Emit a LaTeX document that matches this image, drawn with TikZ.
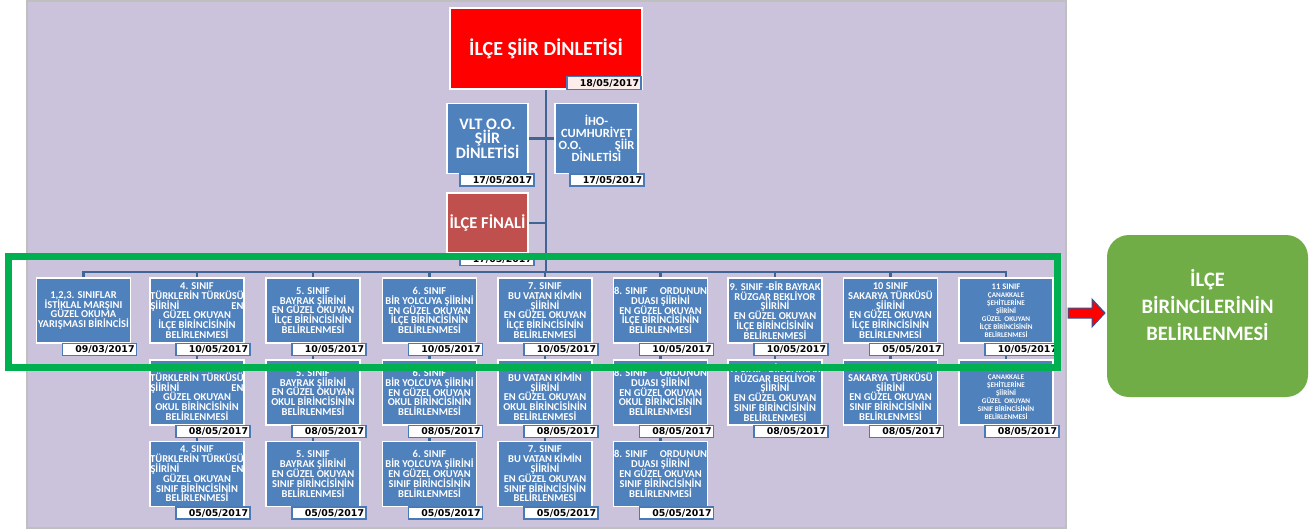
\documentclass[tikz,border=0pt]{standalone}
\usepackage{fontspec}
\setmainfont{Carlito}
\newfontfamily\datefont{DejaVu Sans}
\usetikzlibrary{calc}
\pgfdeclarelayer{bg}
\pgfdeclarelayer{conn}
\pgfsetlayers{bg,conn,main}
\definecolor{lav}{HTML}{CBC3DB}
\definecolor{boxblue}{HTML}{4F81BD}
\definecolor{tagblue}{HTML}{4A7AB5}
\definecolor{lineblue}{HTML}{3F6595}
\definecolor{finred}{HTML}{C0504D}
\definecolor{hgreen}{HTML}{00B050}
\definecolor{rgreen}{HTML}{70AD47}
\definecolor{arrowblue}{HTML}{2F5597}
\definecolor{pinktag}{HTML}{FDEDEC}
\newcommand\spr[2]{\makebox[93pt][s]{#1\hfill #2}}
\newcommand\tightlines{\lineskiplimit=-20pt\lineskip=0pt\relax}
\tikzset{
  sbox/.style={draw=white, line width=1.5pt, fill=boxblue, text=white,
    font=\bfseries\fontsize{10.5}{9.8}\selectfont\tightlines, align=center, inner sep=0pt,
    minimum width=94pt, minimum height=65pt},
  tinybox/.style={sbox, font=\bfseries\fontsize{7.2}{8}\selectfont\tightlines},
  tag/.style={draw=tagblue, line width=1.4pt, fill=white, text=black,
    font=\datefont\bfseries\fontsize{9.4}{9}\selectfont, inner xsep=2pt, inner ysep=0pt,
    text width=70pt, align=right, minimum height=12pt, anchor=north east},
  conn/.style={draw=lineblue, line width=2.2pt},
}
\newcommand\datetag[3]{\node[tag] (#1) at ($(#2.south east)+(6,-1)$) {#3};}
\begin{document}
\begin{tikzpicture}[x=1pt,y=-1pt]
\useasboundingbox (0,0) rectangle (1314,531);
\begin{pgfonlayer}{bg}
\fill[white] (0,0) rectangle (1314,531);
\filldraw[fill=lav, draw=black!25, line width=1.2pt] (27,1) rectangle (1066,528);
\end{pgfonlayer}

% top section
\node[draw=white, line width=1.5pt, fill=red, text=white, inner sep=0pt,
  minimum width=192pt, minimum height=81pt, font=\bfseries\fontsize{20}{22}\selectfont]
  (top) at (546,48.5) {İLÇE ŞİİR DİNLETİSİ};
\node[tag, fill=pinktag, minimum height=13pt] (toptag) at ($(top.south east)+(-1,-14)$) {18/05/2017};

\node[sbox, minimum width=81pt, minimum height=70pt, font=\bfseries\fontsize{16}{14.5}\selectfont\tightlines]
  (vlt) at (487.5,138.5) {VLT O.O.\\ŞİİR\\DİNLETİSİ};
\datetag{vlttag}{vlt}{17/05/2017}
\node[sbox, minimum width=83pt, minimum height=70pt, font=\bfseries\fontsize{12.5}{11.8}\selectfont\tightlines]
  (iho) at (596.5,138.5) {İHO-\\CUMHURİYET\\\makebox[76pt][s]{O.O.\hfill ŞİİR}\\DİNLETİSİ};
\datetag{ihotag}{iho}{17/05/2017}
\node[sbox, fill=finred, minimum width=81pt, minimum height=60pt, font=\bfseries\fontsize{16.5}{18}\selectfont]
  (fin) at (487.5,223) {İLÇE FİNALİ};
\datetag{fintag}{fin}{17/05/2017}
\coordinate (busmid) at (546,272);

% row 1
\node[sbox] (r1c1) at (83.5,310.5) {1,2,3. SINIFLAR\\İSTİKLAL MARŞINI\\GÜZEL OKUMA\\YARIŞMASI BİRİNCİSİ};
\node[sbox] (r1c2) at (197,310.5) {4. SINIF\\TÜRKLERİN TÜRKÜSÜ\\\spr{ŞİİRİNİ}{EN}\\GÜZEL OKUYAN\\İLÇE BİRİNCİSİNİN\\BELİRLENMESİ};
\node[sbox] (r1c3) at (313,310.5) {5. SINIF\\BAYRAK ŞİİRİNİ\\EN GÜZEL OKUYAN\\İLÇE BİRİNCİSİNİN\\BELİRLENMESİ};
\node[sbox] (r1c4) at (429.5,310.5) {6. SINIF\\BİR YOLCUYA ŞİİRİNİ\\EN GÜZEL OKUYAN\\İLÇE BİRİNCİSİNİN\\BELİRLENMESİ};
\node[sbox] (r1c5) at (545,310.5) {7. SINIF\\BU VATAN KİMİN\\ŞİİRİNİ\\EN GÜZEL OKUYAN\\İLÇE BİRİNCİSİNİN\\BELİRLENMESİ};
\node[sbox] (r1c6) at (660.5,310.5) {\spr{8. SINIF}{ORDUNUN}\\DUASI ŞİİRİNİ\\EN GÜZEL OKUYAN\\İLÇE BİRİNCİSİNİN\\BELİRLENMESİ};
\node[sbox] (r1c7) at (775,310.5) {9. SINIF -BİR BAYRAK\\RÜZGAR BEKLİYOR\\ŞİİRİNİ\\EN GÜZEL OKUYAN\\İLÇE BİRİNCİSİNİN\\BELİRLENMESİ};
\node[sbox] (r1c8) at (890.5,310.5) {10 SINIF\\SAKARYA TÜRKÜSÜ\\ŞİİRİNİ\\EN GÜZEL OKUYAN\\İLÇE BİRİNCİSİNİN\\BELİRLENMESİ};
\node[tinybox] (r1c9) at (1006,310.5) {{\fontsize{8.5}{8}\selectfont 11 SINIF}\\ÇANAKKALE\\ŞEHİTLERİNE\\ŞİİRİNİ\\GÜZEL\ \ OKUYAN\\İLÇE BİRİNCİSİNİN\\BELİRLENMESİ};
\datetag{t11}{r1c1}{09/03/2017}
\datetag{t12}{r1c2}{10/05/2017}
\datetag{t13}{r1c3}{10/05/2017}
\datetag{t14}{r1c4}{10/05/2017}
\datetag{t15}{r1c5}{10/05/2017}
\datetag{t16}{r1c6}{10/05/2017}
\datetag{t17}{r1c7}{10/05/2017}
\datetag{t18}{r1c8}{05/05/2017}
\datetag{t19}{r1c9}{10/05/2017}

% row 2
\node[sbox] (r2c2) at (197,392.5) {4. SINIF\\TÜRKLERİN TÜRKÜSÜ\\\spr{ŞİİRİNİ}{EN}\\GÜZEL OKUYAN\\OKUL BİRİNCİSİNİN\\BELİRLENMESİ};
\node[sbox] (r2c3) at (313,392.5) {5. SINIF\\BAYRAK ŞİİRİNİ\\EN GÜZEL OKUYAN\\OKUL BİRİNCİSİNİN\\BELİRLENMESİ};
\node[sbox] (r2c4) at (429.5,392.5) {6. SINIF\\BİR YOLCUYA ŞİİRİNİ\\EN GÜZEL OKUYAN\\OKUL BİRİNCİSİNİN\\BELİRLENMESİ};
\node[sbox] (r2c5) at (545,392.5) {7. SINIF\\BU VATAN KİMİN\\ŞİİRİNİ\\EN GÜZEL OKUYAN\\OKUL BİRİNCİSİNİN\\BELİRLENMESİ};
\node[sbox] (r2c6) at (660.5,392.5) {\spr{8. SINIF}{ORDUNUN}\\DUASI ŞİİRİNİ\\EN GÜZEL OKUYAN\\OKUL BİRİNCİSİNİN\\BELİRLENMESİ};
\node[sbox] (r2c7) at (775,392.5) {9. SINIF -BİR BAYRAK\\RÜZGAR BEKLİYOR\\ŞİİRİNİ\\EN GÜZEL OKUYAN\\SINIF BİRİNCİSİNİN\\BELİRLENMESİ};
\node[sbox] (r2c8) at (890.5,392.5) {10 SINIF\\SAKARYA TÜRKÜSÜ\\ŞİİRİNİ\\EN GÜZEL OKUYAN\\SINIF BİRİNCİSİNİN\\BELİRLENMESİ};
\node[tinybox] (r2c9) at (1006,392.5) {{\fontsize{8.5}{8}\selectfont 11 SINIF}\\ÇANAKKALE\\ŞEHİTLERİNE\\ŞİİRİNİ\\GÜZEL\ \ OKUYAN\\SINIF BİRİNCİSİNİN\\BELİRLENMESİ};
\datetag{t22}{r2c2}{08/05/2017}
\datetag{t23}{r2c3}{08/05/2017}
\datetag{t24}{r2c4}{08/05/2017}
\datetag{t25}{r2c5}{08/05/2017}
\datetag{t26}{r2c6}{08/05/2017}
\datetag{t27}{r2c7}{08/05/2017}
\datetag{t28}{r2c8}{08/05/2017}
\datetag{t29}{r2c9}{08/05/2017}

% row 3
\node[sbox] (r3c2) at (197,474) {4. SINIF\\TÜRKLERİN TÜRKÜSÜ\\\spr{ŞİİRİNİ}{EN}\\GÜZEL OKUYAN\\SINIF BİRİNCİSİNİN\\BELİRLENMESİ};
\node[sbox] (r3c3) at (313,474) {5. SINIF\\BAYRAK ŞİİRİNİ\\EN GÜZEL OKUYAN\\SINIF BİRİNCİSİNİN\\BELİRLENMESİ};
\node[sbox] (r3c4) at (429.5,474) {6. SINIF\\BİR YOLCUYA ŞİİRİNİ\\EN GÜZEL OKUYAN\\SINIF BİRİNCİSİNİN\\BELİRLENMESİ};
\node[sbox] (r3c5) at (545,474) {7. SINIF\\BU VATAN KİMİN\\ŞİİRİNİ\\EN GÜZEL OKUYAN\\SINIF BİRİNCİSİNİN\\BELİRLENMESİ};
\node[sbox] (r3c6) at (660.5,474) {\spr{8. SINIF}{ORDUNUN}\\DUASI ŞİİRİNİ\\EN GÜZEL OKUYAN\\SINIF BİRİNCİSİNİN\\BELİRLENMESİ};
\datetag{t32}{r3c2}{05/05/2017}
\datetag{t33}{r3c3}{05/05/2017}
\datetag{t34}{r3c4}{05/05/2017}
\datetag{t35}{r3c5}{05/05/2017}
\datetag{t36}{r3c6}{05/05/2017}

% connectors
\begin{pgfonlayer}{conn}
\draw[conn] (top.south) -- (busmid);
\draw[conn] (vlt.east) -- (vlt.east -| top.south);
\draw[conn] (iho.west) -- (iho.west -| top.south);
\draw[conn] (fin.east) -- (fin.east -| top.south);
\foreach \c in {1,...,9} { \draw[conn] (busmid) -| (r1c\c.north); }
\foreach \c in {2,...,9} { \draw[conn] (r1c\c.south) -- (r2c\c.north); }
\foreach \c in {2,...,6} { \draw[conn] (r2c\c.south) -- (r3c\c.north); }
\end{pgfonlayer}

% highlight frame
\node[draw=hgreen, line width=7pt, minimum width=1049pt, minimum height=111pt, inner sep=0pt] (hl) at (533.25,311.75) {};

% block arrow (drawn directly)
\filldraw[fill=red, draw=arrowblue, line width=1pt]
  (1068,308) -- (1092,308) -- (1092,299) -- (1105,313) -- (1092,327) -- (1092,318) -- (1068,318) -- cycle;
% result
\node[fill=rgreen, rounded corners=22pt, minimum width=201pt, minimum height=162pt, inner sep=0pt] (res) at (1207.5,316) {};
\node[text=white, font=\bfseries\fontsize{20.5}{27}\selectfont, align=center] (restext) at (1207.5,305) {İLÇE\\BİRİNCİLERİNİN\\BELİRLENMESİ};
\end{tikzpicture}
\end{document}
